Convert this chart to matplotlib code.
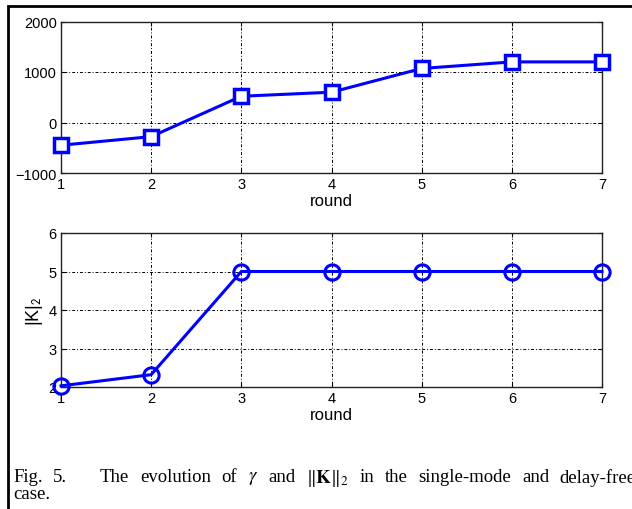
import matplotlib
matplotlib.use('Agg')
import matplotlib.pyplot as plt
from matplotlib.patches import Rectangle

# data
rounds = [1, 2, 3, 4, 5, 6, 7]
gamma = [-450, -280, 520, 600, 1070, 1200, 1200]
knorm = [2.03, 2.32, 5.0, 5.0, 5.0, 5.0, 5.0]

gamma_ticks = [-1000, 0, 1000, 2000]
knorm_ticks = [2, 3, 4, 5, 6]

# caption, first line is justified word by word
cap_words = ['Fig.', '5.', 'The', 'evolution', 'of', '$\\gamma$', 'and',
	'$\\|\\mathbf{K}\\|_2$', 'in', 'the', 'single-mode', 'and', 'delay-free']
cap_line2 = 'case.'

W, H = 632, 510

plt.rcParams['font.family'] = ['Liberation Sans', 'DejaVu Sans']
plt.rcParams['mathtext.fontset'] = 'stix'

fig = plt.figure(figsize=(W/100., H/100.), dpi=100)

def style(ax, yticks):
	ax.set_xlim(1, 7)
	ax.set_ylim(yticks[0], yticks[-1])
	ax.set_xticks(rounds)
	ax.set_yticks(yticks)
	ax.grid(True, color='black', linestyle=(0, (1, 2, 3, 2)), linewidth=0.7)
	ax.tick_params(direction='in', labelsize=10.5, length=3, pad=3,
		top=True, right=True)
	for s in ax.spines.values():
		s.set_linewidth(1.0)
		s.set_color('#222222')
	ax.set_xlabel('round', fontsize=12, labelpad=1)

ax1 = fig.add_axes([61./W, 1 - 174./H, 541./W, 151.5/H])
ax1.plot(rounds, gamma, color='blue', linewidth=2.2, marker='s',
	markersize=10, markerfacecolor='white', markeredgecolor='blue',
	markeredgewidth=2.5, clip_on=False, zorder=5)
style(ax1, gamma_ticks)

ax2 = fig.add_axes([61./W, 1 - 388./H, 541./W, 154./H])
ax2.plot(rounds, knorm, color='blue', linewidth=2.2, marker='o',
	markersize=11, markerfacecolor='none', markeredgecolor='blue',
	markeredgewidth=2.2, clip_on=False, zorder=5)
style(ax2, knorm_ticks)
ax2.set_ylabel('|K|$_\\mathsf{2}$', fontsize=13, labelpad=3)

# outer frame, only left and top edges fall inside the image
fig.patches.append(Rectangle((8./W, -0.5), 2.0, 0.5 + (H - 7.)/H,
	transform=fig.transFigure, fill=False, edgecolor='black',
	linewidth=2.0, figure=fig))

# justify the first caption line between x0 and x1 (px), extra quad after "5."
x0, x1, quad = 13., 636., 22.
texts = [fig.text(0, 1 - 476./H, w, fontsize=13.5, family='Liberation Serif',
	va='center_baseline', ha='left') for w in cap_words]
renderer = fig.canvas.get_renderer()
widths = [t.get_window_extent(renderer).width for t in texts]
gap = (x1 - x0 - sum(widths) - quad) / (len(texts) - 1)
x = x0
for i, t in enumerate(texts):
	t.set_x(x / W)
	x += widths[i] + gap + (quad if i == 1 else 0)

fig.text(13./W, 1 - 493./H, cap_line2, fontsize=13.5,
	family='Liberation Serif', va='center_baseline', ha='left')

fig.savefig('out.png', dpi=100)
